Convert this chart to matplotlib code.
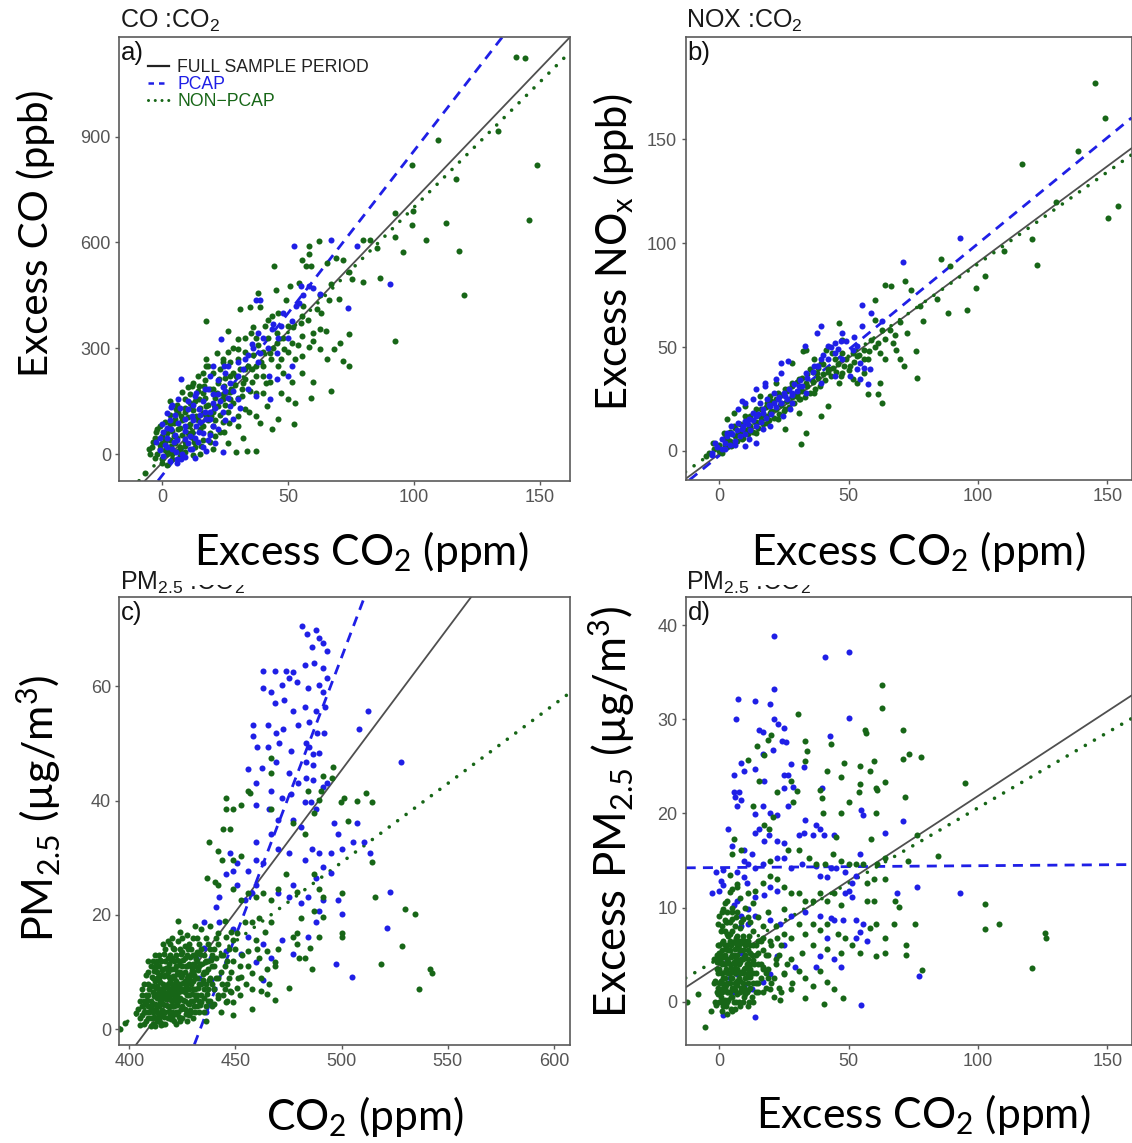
import numpy as np
import matplotlib
matplotlib.use("Agg")
import matplotlib.pyplot as plt
from matplotlib.lines import Line2D
from matplotlib.patches import Rectangle

# ---------------------------------------------------------------- data
# a) excess CO vs excess CO2  (x: ppm, y: ppb)
co_pcap = [(52.1,589),(67,608),(77.5,589),(90.3,483),(73.6,415),(62.7,455),(58.4,476),(54.9,476),
           (54.3,429),(51.4,377),(47.1,363),(43.6,353),(45.7,287),(38.6,438),(37.2,438),(37.9,344),
           (38.6,287),(42.2,221),(45.7,212),(50,221),(51.4,250),(35.8,311),(33,269),(30.1,221),
           (25.9,250),(23.1,325),(24.5,250),(20.2,250),(18.8,221),(17.1,184),(13.2,174),(7.5,212),
           (6.1,156),(3.3,132),(11.7,108),(17.4,99),(24.2,118),(26.9,137),(29.9,156),(14.6,61),
           (8.9,42),(4.7,33),(1.8,19),(7.5,-14),(17.4,9),(11.7,14),(24.2,5),(-2.4,33),(0.4,61),
           (6.1,89),(10.3,127),(14.6,127),(20.2,146),(3.3,70),(8.9,80),(13.2,80),(5.4,5),(0.4,-5),
           (20.2,80),(34,184),(42.8,156),(37.2,165),(2,45),(5,55),(9,65),(12,95),(15,110),(19,120),
           (22,170),(27,200),(16,150),(10,30),(-1,10),(3,-20),(6,-25),(13,-10),(18,40),(21,30),
           (28,100),(31,130),(25,180),
           (1,25),(2,75),(3,95),(4,15),(5,110),(6,40),(7,130),(8,0),(9,100),(10,150),(11,50),
           (12,140),(13,165),(14,35),(15,90),(16,60),(17,120),(18,185),(19,100),(20,170),(21,130),
           (22,210),(23,150),(24,190),(25,230),(26,160),(28,180),(30,260),(32,240),(34,280),
           (36,300),(38,260),(40,330),(42,300),(44,370),(46,330),(48,400),(50,330),(53,420),
           (56,450),(60,470),(-1,45),(0,85),(2,115),(4,140),(6,-15),(9,-8),(11,15),(13,45),
           (16,20),(19,55),(22,70),(25,95)]
co_nonpcap = [(140.5,1126),(144,1123),(148.6,818),(145.5,664),(133.4,917),(119.7,450),(117.9,575),
              (116.8,780),(112.6,655),(109.4,891),(104.7,608),(99,818),(99.4,688),(99,650),(95.7,573),
              (92.4,320),(92.4,683),(92.4,614),(86.4,500),(85.4,584),(82.5,608),(79.7,488),(75.4,495),
              (79.7,608),(74,339),(74,250),(71.9,264),(70.5,316),(67,179),(74,515),(71.9,551),
              (69,556),(65.5,542),(62.4,603),(58.4,589),(58.4,566),(59.1,533),(55.6,551),(67,481),
              (66.3,438),(62.8,452),(61.3,410),(62.8,353),(60,344),(55.6,391),(54.9,372),(55.6,335),
              (58.4,302),(55.6,278),(59.1,160),(52.1,85),(52.8,146),(51.4,203),(47.8,231),(47.1,269),
              (51.4,316),(50,363),(44.3,533),(45,466),(37.9,457),(38.6,416),(35,416),(37.2,330),
              (30.8,410),(25.9,349),(17.4,377),(37.2,9),(33.7,9),(29.4,5),(42.9,287),(45.7,316),
              (40,250),(35.8,203),(40,174),(32.7,240),(29.9,297),(24.2,269),(26.9,221),(32.7,127),
              (37.2,108),(41.5,137),(46,99),(20.2,184),(17.4,250),(14.6,193),(11.7,137),(24.2,156),
              (29.9,80),(22.9,61),(17.4,108),(-5.2,14),(-3.8,33),(-2.4,61),(-1,80),(1.1,42),(3.3,24),
              (4.7,52),(6.1,70),(7.5,108),(8.9,118),(10.3,80),(11.7,61),(13.2,108),(14.6,156),
              (16,174),(16.7,193),(17.4,137),(19.5,108),(21.7,174),(22.4,212),(24.5,193),(26.9,156),
              (27.3,184),(29.4,221),(31.6,184),(33,212),(35.8,240),(37.2,250),(40,221),(42.9,203),
              (47.1,174),(50,156),(-1,14),(1.8,70),(4.7,89),(6.1,118),(8.9,156),(11,146),(3.3,5),
              (6.1,9),(8.9,24),(12.4,33),(15.3,24),(18.8,33),(20.9,52),(24.5,61),(26.6,89),(30.1,108),
              (34.4,118),(38.6,89),(43.6,70),(5.4,127),(11.7,193),(17.4,269),(21.7,287),(29.9,325),
              (35.2,344),(40.9,363),(43.6,391),(49.2,438),(50.6,476),(54.2,485),(57,533),(45.7,344),
              (48.5,297),(52.8,269),(55.6,231),(60,203),(62.8,297),(65.5,269),(68.3,297),(37.2,174),
              (31.6,165),(20.2,80),(16,80),(-7,-55),(2,0),(0,30),(7,20),
              (-4,20),(-3,45),(-2,0),(-1,25),(0,50),(0,-15),(1,10),(1,35),(2,60),(2,20),(3,85),(3,40),
              (4,0),(4,65),(5,100),(5,30),(6,45),(6,140),(7,75),(7,10),(8,95),(8,55),(9,130),(9,35),
              (10,105),(10,60),(11,170),(11,85),(12,125),(12,45),(13,150),(13,20),(14,95),(14,180),
              (15,70),(15,130),(16,115),(16,40),(17,160),(17,210),(18,95),(18,140),(19,185),(19,60),
              (20,120),(20,230),(21,160),(21,95),(22,200),(22,135),(23,110),(23,240),(24,170),
              (24,90),(25,215),(25,140),(26,120),(27,260),(27,175),(28,145),(28,230),(29,195),
              (30,270),(30,160),(31,240),(32,200),(33,290),(34,250),(35,180),(36,280),(37,220),
              (38,310),(39,260),(40,290),(41,200),(42,330),(43,270),(44,300),(46,250),(48,330),
              (50,290),(52,360),(54,310),(56,420),(58,380),(60,320),(63,400),(65,350),(70,440),
              (46,400),(42,380),(36,360),(33,330),(28,300),(26,290),(24,260),(18,250),(14,220),
              (10,190),(6,120),(3,110),(1,90),(-2,70),(-5,0),(-3,-10),(0,-25),(2,-30),(4,-15),(7,-5),
              (9,5),(12,-2),(15,0),(20,15),(26,30),(32,45),(3,150),(8,175),(12,200),(16,230)]

# b) excess NOx vs excess CO2  (x: ppm, y: ppb)
nox_pcap = [(93.1,102.4),(70.9,91.1),(55.2,70),(58.7,66.4),(62.8,62.4),(39.2,60),(37.8,56.8),
            (33,50.4),(26.7,43.2),(23.9,42.4),(21.8,34.4),(17.7,31.2),(12.8,24.8),(10,23.2),(7.2,20),
            (4.4,12),(3.1,8.8),(1,5.6),(-1.8,4),(8.6,10.4),(11.4,15.2),(14.2,16.8),(17,18.4),
            (19.7,21.6),(22.5,24.8),(25.3,26.4),(28.1,28),(30.9,31.2),(33.6,37.6),(36.4,40.8),
            (39.2,44),(42,44),(44.8,47.2),(47.5,44),(51.7,48.8),(53.1,50.4),(54.5,42.4),(55.9,40),
            (53.1,39.2),(50.3,36),(54.5,34.4),(58.2,39.2),(57.6,32),(47.5,56.8),(46.9,52.8),
            (44.8,52),(42,50.4),(37.8,40.8),(21.1,28),(18.4,24.8),(15.6,23.2),(12.8,18.4),(10,14.4),
            (7.2,13.6),(4.4,8.8),(11.4,5.6),(10,2.4),(14.2,4),(17,10.4),(19.7,12),(24.6,16.8),
            (27.3,20),(28.1,23.2),(33.6,28),(39.2,32.8),(44.8,36),(8.6,24),(14.2,29.6),(17.7,32.8),
            (23.9,37.6),(-3,-1),(2,1),(6,3),
            (-3,-2),(-1,2),(1,1),(2,4),(3,7),(4,3),(5,8),(6,5),(7,10),(8,7),(9,12),(10,8),(11,13),
            (12,10),(13,15),(14,12),(15,18),(16,14),(17,20),(18,16),(19,22),(20,18),(21,23),(22,21),
            (23,26),(24,23),(25,28),(26,25),(27,30),(28,27),(29,32),(30,29),(31,34),(32,31),(34,35),
            (36,38),(38,41),(40,46),(43,50),(46,49),(49,53),(52,55),(55,60)]
nox_nonpcap = [(145.3,177.2),(149,160.4),(138.6,144.1),(116.8,138.1),(153.9,117.7),(150.4,112),
               (121,102),(122.6,89.6),(102.5,84),(99,78.4),(95.9,67.7),(88.5,66.4),(85.5,92.4),
               (89.2,88.8),(78.8,62.4),(77.4,69.6),(76,48),(76.4,35.2),(72.6,56.8),(71.2,40.8),
               (69.8,44),(74,77.6),(71.9,81.6),(64.2,80),(66.3,79.2),(60,72.8),(60,63.2),(62.8,58.4),
               (67,52),(68.4,48.8),(64.2,44),(62.2,32.8),(61.5,27.2),(57.3,27.2),(62.8,23.2),
               (55.9,37.6),(53.1,32.8),(46.2,61.6),(47.5,53.6),(41.3,48.8),(36.4,44),(32.3,48),
               (30.9,24.8),(42,21.6),(39.2,16.8),(33.6,8.8),(31.6,3.5),(25.3,10.4),(22.5,15.2),
               (19.7,26.4),(28.1,32.8),(25.3,29.6),(47.5,37.6),(50.3,40.8),(53.1,45.6),(55.9,48.8),
               (58.7,53.6),(61.4,52),(44.8,44),(42,39.2),(37.8,37.6),(33.6,32.8),(29.5,26.4),
               (23.9,23.2),(19.7,18.4),(15.6,16.8),(11.4,12),(7.2,8.8),(3.1,5.6),(-1.1,1.6),
               (-5.3,-2.4),(-2.5,4),(1.7,8.8),(5.8,12),(10,16.8),(14.2,20),(18.4,23.2),(22.5,28),
               (26.7,29.6),(30.9,34.4),(35.2,39.2),(39.2,42.4),(43.5,47.2),(47.5,47.2),(51.7,47.2),
               (4.4,2.4),(8.6,5.6),(14.2,8.8),(18.4,13.6),(10,21.6),(3.1,15.2),(5.8,18.4),(15.6,26.4),
               (21.8,32.8),(33.6,48.8),(28.1,42.4),(25.3,20),(36.4,28),(30.9,18.4),(46.2,32.8),
               (51.7,34.4),(57.3,44),(130,120),(110,96),(84,73),
               (-4,-1),(-2,1),(0,0),(0,3),(1,-1),(2,3),(2,6),(3,2),(4,5),(4,9),(5,3),(6,7),(6,11),
               (7,5),(8,9),(8,13),(9,6),(10,10),(10,14),(11,8),(12,12),(12,17),(13,9),(14,14),(14,18),
               (15,11),(16,15),(16,20),(17,13),(18,17),(18,21),(19,15),(20,19),(20,24),(21,16),
               (22,20),(22,25),(23,18),(24,22),(24,27),(25,19),(26,24),(26,29),(27,21),(28,26),
               (28,31),(29,23),(30,27),(30,33),(31,25),(32,29),(32,35),(33,26),(34,31),(34,37),
               (35,28),(36,33),(36,38),(37,30),(38,35),(38,40),(39,31),(40,37),(40,42),(41,34),
               (42,38),(43,36),(44,40),(45,38),(46,42),(47,36),(48,41),(49,44),(50,39),(52,43),
               (54,46),(56,44),(58,48),(60,50),(62,47),(64,54),(66,58),(68,56),(70,62)]

# c) PM2.5 vs CO2  (x: ppm, y: ug/m3)
pm_pcap = [(481.1,70.5),(483.9,69.1),(487.8,69.9),(489.5,68.5),(491.3,67.5),(486,66.9),(493,66.2),
           (463.1,62.7),(468.4,62.7),(474,62.7),(477.2,62.4),(482.5,63.7),(486.9,64),(491.3,63.2),
           (493,61.4),(463.1,59.6),(466.6,58.9),(471.9,60.2),(475.4,61.5),(479,60.8),(484.3,59.6),
           (489.5,60.2),(491.3,58.9),(468.4,57),(472.8,57.6),(477.2,55.7),(482.5,56.4),(487.8,55.7),
           (492.2,56.4),(458.3,53.2),(465.4,53.2),(468.9,51.9),(472.5,52.5),(479.5,53.2),(484.8,53.8),
           (488.4,51.9),(491.9,51.9),(458.3,51.3),(460,49.4),(465.4,49.4),(470.7,50),(476,48.7),
           (483.1,50),(484.8,49.4),(486.6,48.1),(489.2,48.4),(483.1,46.8),(486.6,46.2),(462.6,45.7),
           (468.9,46.8),(475,44.9),(479.5,43),(483.1,43.9),(486.6,43.6),(456,45.5),(459.6,43),
           (466.6,41.7),(471.9,40.4),(476.3,41.1),(482.5,39.8),(485.5,39.8),(491.3,42.4),(493,43),
           (459.6,39.2),(465.7,38.5),(470.1,36.6),(477.2,36.6),(480.7,35.4),(487.8,38.5),(466.6,34.1),
           (459.6,32.8),(470.1,31.5),(475.4,30.9),(482.5,29.6),(486,31.5),(489.5,30.9),(494.8,30.9),
           (500,31.5),(494.8,27.4),(447.2,30.9),(450.8,29),(449,27.7),(445.5,27.1),(459.6,29.6),
           (463.1,29),(456,27.7),(505.3,32.8),(510.6,32.8),(507.1,36),(512.4,55.7),(508,52.5),
           (527.9,46.7),(513.3,30.9),(498.3,34.1),(496.5,36),(491.3,28.3),(477.2,25.2),(480.7,22),
           (484.3,23.2),(487.8,26.4),(491.3,22.6),(498.3,22.6),(500,20.1),(489.5,20.7),(475.4,23.2),
           (470.1,23.9),(459.6,25.2),(457.8,23.9),(454.3,22.6),(450.8,25.2),(442.4,23.2),
           (440.6,21.3),(435.3,18.8),(442.4,18.8),(449,17.5),(456,16.2),(463.1,15),(466.6,12.4),
           (463.1,8.6),(459.6,11.8),(452.5,13.1),(445.5,13.7),(438.4,12.4),(435,14.3),(431.4,12.4),
           (438.4,8.6),(522.6,24),(521.2,17.8),(497.4,11.5),(504.9,9.1),(471.9,15.6),(477.2,13.1),
           (484.3,16.2),(487.8,18.8),(436,3),(440,7),(433,9)]
pm_nonpcap = [(395.6,0),(398.2,1.1),(403.2,2.9),(536.2,7),(541.5,10.5),(542.5,9.8),(534.4,20.1),
              (530,21),(528.3,14.6),(518.6,11.5),(515.9,23.2),(514.2,29.3),(514.2,39.8),(511.5,41.4),
              (507.1,39.9),(500.9,40.4),(499.6,39.7),(503.2,36.4),(495.3,43.9),(495.7,45.9),
              (491.3,44.3),(490.1,41.7),(484.3,41.7),(489.5,40.1),(486.9,37.9),(482.5,34.1),
              (477.2,36),(486.9,27.1),(489.5,24.5),(491.3,23.2),(486.9,20.7),(491.3,19.7),(500,23.9),
              (500,16.2),(500,16.9),(489.5,16.2),(486,10.5),(485.2,14.3),(482.5,12.4),(479.8,12.4),
              (477.2,16.2),(479,16.9),(479,15),(475.4,7.3),(468.4,5.1),(465,6.1),(461.9,6.7),
              (468.4,11.8),(468.4,11.1),(465,10.5),(465,13.7),(466.6,44.9),(466.6,47.5),(466.6,38.5),
              (456,41.7),(456.9,41.4),(445.5,40.4),(449,38.5),(452.5,39.2),(445.5,38.5),(444,35),
              (447.2,35),(437.5,32.8),(442,31.2),(443.8,29.6),(449,29.6),(452.5,30.3),(436.6,26.4),
              (440.2,25.8),(442,25.2),(449,24.5),(452.5,22.6),(456,23.9),(459.6,23.2),(463.1,23.9),
              (466.6,22.6),(470.1,24.5),(473.6,27.1),(479,24),(480.7,19.4),(466.6,18.8),(461.3,19.4),
              (457.8,18.8),(454.3,18.8),(450.8,16.9),(449,15.6),(445.5,16.2),(442,16.9),(456,13.7),
              (459.6,15.6),(461.3,12.4),(457.8,9.9),(452.5,9.2),(450.8,7.3),(447.2,6.7),(443.8,8),
              (442,5.4),(445.5,4.8),(449,4.8),(434.9,8.6),(434,4.8),(457.8,3.5),
              (405,2),(406,4),(407,1),(408,6),(408,3),(409,8),(410,2),(410,5),(411,9),(411,3),(412,6),
              (412,0.5),(413,4),(413,10),(414,7),(414,2),(415,5),(415,12),(416,3),(416,8),(417,6),
              (417,1),(418,10),(418,4),(419,7),(419,13),(420,5),(420,2),(421,9),(421,6),(422,3),
              (422,11),(423,8),(423,5),(424,14),(424,1.5),(425,7),(425,4),(426,10),(426,12.5),(427,6),
              (427,3),(428,9),(428,15),(429,5),(429,11),(430,7),(430,2),(431,13),(431,9),(432,4),
              (432,16),(433,8),(433,11),(434,6),(434,14),(435,3),(435,10),(436,12),(436,8),(437,5),
              (437,15),(438,9),(439,13),(440,7),(440,11),(441,16),(442,9),(443,13),(444,6),(445,11),
              (446,8),(447,14),(448,10),(412,13),(416,15),(420,16),(423,19),(410,11),(406,7),(409,12),
              (413,7.5),(417,9.5),(419,2.5),(421,4),(423,6.5),(426,8.5),(428,2.5),(430,13),(415,0.8),
              (411,1),(418,15.5),(424,17),(427,16.5),(431,18),(434,17.5),(438,18),(436,1.5),(439,4),
              (443,3),(446,5),(449,2.5),(452,6),(455,8),(452,11),(450,14),(448,17),(445,19),
              (414,9),(418,6.5),(420,8),(422,7),(416,5.5),(419,10.5),(421,12),(424,10),(426,5),
              (428,7),(430,10),(432,12),(412,4.5),(414,11),(417,12),(425,13.5),(427,11),(429,8),
              (431,6),(433,3),(435,7),(437,10.5),(407,5),(409,4),(411,6.5),(413,1.5),
              (404,3.5),(405,5),(405,0.8),(406,2.5),(406,6),(407,3),(407,8),(408,1.5),(408,4.5),
              (408,9.5),(409,2),(409,6),(409,10),(410,3.5),(410,7.5),(410,0.5),(411,4.5),(411,7.5),
              (411,12),(412,2),(412,8.5),(412,10.5),(413,3),(413,5.5),(413,12),(414,4),(414,5.5),
              (414,13),(415,2.5),(415,7),(415,9.5),(416,1),(416,4.5),(416,6.5),(416,10.5),(417,3),
              (417,7.5),(417,14),(418,2),(418,5.5),(418,8),(418,12.5),(419,4),(419,6),(419,8.5),
              (419,15),(420,3),(420,6.5),(420,10.5),(420,12.5),(421,1.5),(421,7.5),(421,14),(422,5),
              (422,8.5),(422,13),(422,1),(423,3),(423,10),(423,15.5),(424,5.5),(424,8),(424,12),
              (425,2),(425,9.5),(425,11),(425,16),(426,3.5),(426,6.5),(426,14.5),(427,8),(427,13),
              (427,1.5),(428,4.5),(428,11.5),(428,6),(429,3),(429,9.5),(429,14),(430,5),(430,8.5),
              (430,11.5),(430,16),(431,3),(431,7),(431,11),(432,6),(432,9),(432,13.5),(433,5),
              (433,15),(434,8),(434,11.5),(435,5.5),(435,13),(436,4),(436,10),(436,16),(437,7),
              (437,12),(438,5),(438,14),(439,8),(439,11),(440,4.5),(440,14),(441,9),(441,12.5),
              (442,6),(442,15),(443,10),(444,13),(445,7),(446,12),(447,9),(448,6.5),(449,12),(451,9),
              (453,13),(456,11),(458,7),(460,14),(462,9),(464,17),(466,8),(470,14),
              (408.5,5.2),(409.5,3.1),(409.5,7.1),(410.5,4.3),(410.5,9.2),(411.5,2.2),(411.5,5.8),
              (411.5,10.2),(412.5,3.6),(412.5,7.2),(412.5,11.3),(413.5,2.8),(413.5,6.3),(413.5,9.1),
              (414.5,1.2),(414.5,4.8),(414.5,8.2),(414.5,12.1),(415.5,3.3),(415.5,6.1),(415.5,10.4),
              (416.5,2.1),(416.5,7.3),(416.5,9.3),(416.5,13.2),(417.5,4.2),(417.5,5.3),(417.5,10.8),
              (418.5,3.2),(418.5,7.1),(418.5,9.2),(418.5,11.4),(419.5,1.8),(419.5,5.1),(419.5,12.1),
              (420.5,4.1),(420.5,7.3),(420.5,9.4),(420.5,14.2),(421.5,2.6),(421.5,5.6),(421.5,10.6),
              (422.5,4.2),(422.5,6.2),(422.5,9.6),(422.5,12.2),(423.5,2.1),(423.5,7.3),(423.5,11.3),
              (424.5,3.6),(424.5,6.7),(424.5,9.1),(424.5,13.1),(425.5,5.2),(425.5,8.1),(425.5,12.2),
              (426.5,2.6),(426.5,7.4),(426.5,11.1),(427.5,4.6),(427.5,9.3),(427.5,14.1),(428.5,3.4),
              (428.5,8.2),(428.5,12.6),(429.5,6.2),(429.5,10.4),(430.5,4.1),(430.5,9.5),(431.5,5.3),
              (431.5,12.3),(432.5,7.2),(432.5,10.3),(433.5,4.2),(433.5,13.1),(434.5,9.6),
              (435.5,11.8),(436.5,6.2),(437.5,8.6),(438.5,12.2)]

# d) excess PM2.5 vs excess CO2  (x: ppm, y: ug/m3)
epm_pcap = [(21.3,38.9),(50,37.2),(41,36.6),(7.4,32.2),(13.9,32),(21.3,33.2),(50,30.1),(6.5,30),
            (19.4,31.6),(21.1,30),(22.5,29.5),(25,29.1),(15.3,28.9),(16.7,28.7),(42.8,28.2),
            (24.2,27.7),(25.6,27.6),(20.8,26.7),(16.7,26.3),(27.8,25.3),(32.6,24.9),(25,24.1),
            (26.4,24.1),(8.3,25.4),(5.6,24.1),(9.7,24.5),(13.9,24.7),(17.4,23.5),(28.5,22.8),
            (25,22.7),(39.6,22.7),(5.6,22.3),(7.6,22.3),(6.2,21.7),(8.3,21.4),(6.9,20.8),(3.5,18.3),
            (13.9,19.9),(16.7,20.8),(19.4,20),(22.2,19.8),(26.4,20.8),(33.3,19.3),(37.5,18.8),
            (54.9,20.4),(55.6,19.8),(70.8,19.2),(63.9,17.9),(38.9,18.3),(40.3,17.7),(44.4,17.7),
            (13.9,17.9),(15.3,18.4),(17.4,17.1),(19.2,17.7),(22.2,17.1),(25,16.9),(30.6,17.7),
            (32.6,17.9),(36.1,17.7),(4.9,16.5),(9.7,16.1),(12.5,15.7),(9.7,15),(11.1,14.6),
            (6.9,13.8),(1.4,14),(-1.4,13.8),(0.7,12.8),(1.4,12.4),(-2.8,11.5),(0,11.8),(9.7,13.2),
            (10.8,12.6),(13.9,14.2),(16.7,14.6),(22.2,15.3),(25,15.3),(27.8,14.2),(31.9,14.6),
            (37.5,14.4),(38.9,13.4),(43,14.2),(45.1,14.2),(41.7,13.2),(48.6,13.8),(54.2,15.7),
            (52.8,13.4),(51.4,12.6),(50,11.8),(51.4,11.1),(48.6,11.5),(68.8,11.5),(76.4,12.2),
            (93.1,11.5),(17.4,11.3),(13.9,11.1),(19.4,12.2),(22.2,11.8),(6.9,10.7),(5.6,10.3),
            (11.1,9.9),(8.3,9.1),(8.3,8),(11.1,8.3),(13.9,9.1),(19.4,8.7),(23.6,8.3),(27.8,9.1),
            (33.3,9.5),(38.9,9.1),(43,8.9),(44.4,8.7),(47.9,8.7),(52.8,8.7),(55.6,8.3),(54.2,7.4),
            (52.8,6.8),(56.9,6.4),(41.7,6.8),(38.9,4.9),(44.4,4.5),(47.2,3.7),(37.5,3.7),(29.2,3.7),
            (25,6),(22.2,4.9),(19.4,2.9),(16.7,2.1),(12.5,1.4),(9.7,1.7),(6.9,2.9),(5.6,1),
            (1.4,-1.4),(13.9,-1.6),(54.9,-0.4),(77.1,2.7),(2.8,4.5),(4.2,2.5),(8.3,5.2)]
epm_nonpcap = [(62.8,33.7),(62.8,31.2),(30.3,30.6),(33.3,27.7),(56.3,28.9),(56.5,28.5),(71.1,28.9),
               (73.3,26.3),(70.8,25.8),(78.1,26),(95.1,23.2),(71.9,21.7),(76.4,17.7),(84.7,15.5),
               (72.9,15),(102.5,10.4),(102.5,7.7),(107.9,8.3),(125.7,7.3),(126.4,6.8),(120.8,3.6),
               (75.7,8.3),(78.5,3.4),(72.2,6),(72.2,5),(68,10.7),(69.4,10.1),(67.4,8.3),(63.9,6.8),
               (63.9,5.2),(60.4,4.9),(60.4,8.3),(58.3,7.8),(63.9,13),(63.9,15.3),(61.1,14.6),
               (60.4,20),(58.8,17.3),(61.1,22.5),(60.4,22.7),(63.9,23.3),(58.3,24.5),(59.7,25.6),
               (54.2,25),(53.9,22.3),(50,21.2),(48.3,25.4),(54.4,23.1),(47.2,23.9),(41.7,24.5),
               (43,27.4),(47.2,20),(39.6,21.6),(40,20),(38.9,22.5),(34,26.6),(33.3,25.6),(29.9,22.4),
               (27.8,23.5),(28.5,21.2),(22.2,22.3),(20.1,28.3),(18.8,27.8),(17.4,26.2),(14.6,27.2),
               (11.1,25.7),(15.3,23.5),(13.2,20.8),(20.8,19.6),(17.4,18.8),(19.2,18.4),(5.6,17.3),
               (8.3,16.1),(4.9,15.7),(19.4,15),(26.4,16.1),(30.6,16.1),(34.7,15.3),(37.5,14.6),
               (41,14.6),(43.8,15.7),(45.1,17.5),(47.2,15),(50,14.6),(52.8,14.6),(55.6,14.6),
               (56.9,12.6),(59.7,13),(56.9,10.7),(59.7,10.7),(47.2,10.3),(44.4,11.5),(41.7,10.7),
               (38.9,11.5),(36.1,10.7),(33.3,10.7),(30.6,11.5),(27.8,11.5),(25,12.2),(22.2,13),
               (19.4,13.4),(16.7,12.6),(13.9,11.8),(11.1,11.5),(6.9,12.2),(4.2,11.7),(2.8,10.7),
               (1.4,9.9),(0,9.1),(-0.7,8.3),(2.1,8.7),(4.9,9.5),(25,9.9),(30.6,8.3),(33.3,7.2),
               (36.1,8.3),(38.9,7.6),(41.7,8.3),(45.8,7.2),(48.6,6.8),(51.4,6),(54.2,5.2),(47.2,5.2),
               (41.7,5.6),(36.1,6),(31.9,5.2),(27.8,6.8),(25,7.2),(22.2,6.8),(19.4,6.4),(16.7,6.8),
               (27.8,4.5),(30.6,3.3),(33.3,2.5),(36.1,1.7),(41.7,2.1),(44.4,1.4),(47.9,0.4),
               (40.3,-0.2),(33.3,0.4),(27.8,1.4),(23.6,0.2),(19.4,1.4),(16.7,3.7),(38.9,3.3),(25,2.9),
               (-12.5,0),(-8.3,0.8),(-5.6,-2.7),(-3.1,-1),(-1.4,-0.4),
               (0,0),(1,2),(2,4),(3,1),(4,3),(5,5),(6,2),(7,6),(8,1),(9,3),(10,5),(11,2),(12,4),(13,6),
               (14,1),(0.5,5),(1.5,6.5),(2.5,-0.5),(3.5,5.5),(4.5,0.5),(5.5,3.5),(6.5,4.5),(7.5,0),
               (8.5,4.5),(9.5,1.5),(10.5,6.5),(11.5,3.5),(12.5,0.5),(-1,1),(-0.5,3),(0,6),(1,-1),
               (2,2.5),(3,4.5),(4,6.5),(5,1.5),(6,-0.8),(7,3.5),(8,5.5),(9,7),(10,0.8),(11,4.5),(12,6),
               (13,3),(14,5),(15,2),(16,4),(17,1),(18,3),(19,5),(2,7.5),(4,8.5),(6,8),(8,7.8),(3,9.5),
               (5,10),(1,8),(0,3.5),(-1,5),(1,0),(3,-1.3),(5,-1),(7,1.8),(9,0),(11,-0.5),(13,0),(20,2),
               (22,4),(24,1),(15,6.5),(17,5.5),(19,2.5),(21,0.5),(23,5),(25,3),
               (-2,2),(-2,4.5),(-1.5,0),(-1,3.5),(-0.5,1.5),(-0.5,6),(0,2),(0,4.5),(0.5,0.5),(0.5,3),
               (0.5,7.5),(1,1),(1,4),(1,5.5),(1.5,2.5),(1.5,-0.5),(2,1.5),(2,5),(2,6),(2.5,3.5),
               (2.5,8.5),(3,0),(3,2),(3,6),(3.5,1),(3.5,3),(3.5,7),(4,2),(4,4),(4,5.5),(4.5,-0.8),
               (4.5,2.5),(4.5,6),(5,0.5),(5,3.5),(5,7.5),(5.5,1.5),(5.5,5),(6,3),(6,4),(6,6.5),(6.5,0),
               (6.5,2),(6.5,9),(7,0.8),(7,5),(7,7),(7.5,2.5),(7.5,4),(8,-0.5),(8,3),(8,6.5),(8.5,1.5),
               (8.5,8.5),(9,2),(9,4.5),(9,5.5),(9.5,0.5),(9.5,3.5),(10,2.5),(10,6),(10.5,1),(10.5,4),
               (11,3),(11,5.5),(11.5,0),(11.5,7),(12,1.5),(12,3.5),(12.5,5),(13,2),(13,7.5),(13.5,4),
               (14,3),(14,6),(15,1),(15,4),(16,2.5),(16,6.5),(17,3.5),(18,1.5),(18,5),(19,3.5),(20,6),
               (21,2.5),(22,4.5),(23,1.5),(24,6),(26,4),(28,2),(2,10.5),(5,12),(8,11),(11,9),
               (13,10.5),(15,9),(17,8),(19,9.5),(22,8),(4,13.5),(7,12.5),(10,10),
               (-1.5,2.2),(-1,4.2),(-0.5,0.8),(0,1.2),(0,5.2),(0.5,2.2),(0.5,4.2),(1,3),(1,6.2),
               (1.5,1.5),(1.5,4.8),(2,0.2),(2,3.2),(2.5,1.8),(2.5,5.6),(3,3.2),(3,7.2),(3.5,0.2),
               (3.5,4.2),(4,1),(4,7.2),(4.5,3.6),(4.5,4.8),(5,2.5),(5,6.2),(5.5,0),(5.5,4.2),(6,1.2),
               (6,5.6),(6.5,3.2),(6.5,6.8),(7,2.2),(7,4.2),(7.5,5.6),(8,2.2),(8,4.2),(8.5,3.2),
               (8.5,6.2),(9,1.2),(9,6.6),(9.5,4.8),(10,3.6),(10.5,2.6),(11,1.2),(11,6.4),(12,2.6),
               (12,5.2),(13,4.4),(14,2),(15,5.2),(3,8.5),(5,8.8),(7,9.5),(1,9.5),(9,8.8),(12,8.5)]

# regression lines: (intercept at x = 0, slope) for full period, PCAP and non-PCAP
fit_co = {"full": (-24.2, 7.45), "pcap": (-60.0, 9.2), "non": (-10.0, 7.1)}
fit_nox = {"full": (-1.4, 0.923), "pcap": (-2.2, 1.02), "non": (1.5, 0.885)}
fit_pm = {"full": (-202.8, 0.4963), "pcap": (-423.4, 0.977), "non": (-108.8, 0.276)}
fit_epm = {"full": (3.86, 0.180), "pcap": (14.25, 0.002), "non": (4.6, 0.160)}

# ---------------------------------------------------------------- styling
plt.rcParams["font.family"] = ["Liberation Sans", "DejaVu Sans"]
GREEN = "#176617"
BLUE = "#1f1fe6"
FULL = "#4f4f4f"
FRAME = "#5a5a5a"
TICKTXT = "#555555"
LABEL_FONT = ["Lato", "DejaVu Sans"]

W, H = 1132, 1143
fig = plt.figure(figsize=(W / 100, H / 100), dpi=100)


def rect(l, t, r, b):
    return [l / W, 1 - b / H, (r - l) / W, (b - t) / H]


def panel(pos, xlim, ylim, xticks, yticks, pcap, nonpcap, fit, letter, green_on_top):
    ax = fig.add_axes(rect(*pos))
    gx, gy = np.array(nonpcap).T
    bx, by = np.array(pcap).T
    gz, bz = (2.2, 2.1) if green_on_top else (2.1, 2.2)
    ax.scatter(gx, gy, s=19, color=GREEN, linewidths=0, zorder=gz)
    ax.scatter(bx, by, s=19, color=BLUE, linewidths=0, zorder=bz)
    # fitted lines sit underneath the points
    b0, m = fit["full"]
    ax.axline((0, b0), slope=m, color=FULL, lw=1.3, zorder=1.9)
    b0, m = fit["pcap"]
    ax.axline((0, b0), slope=m, color=BLUE, lw=2.0, linestyle=(0, (3.6, 2.6)), zorder=1.9)
    b0, m = fit["non"]
    ax.axline((0, b0), slope=m, color=GREEN, lw=2.6, linestyle=(0, (0.01, 2.9)),
              dash_capstyle="round", zorder=1.9)
    ax.set_xlim(*xlim)
    ax.set_ylim(*ylim)
    ax.set_xticks(xticks)
    ax.set_yticks(yticks)
    for s in ax.spines.values():
        s.set_color(FRAME)
        s.set_linewidth(1.2)
    ax.tick_params(direction="out", length=3, width=1.0, color=FRAME,
                   labelsize=13, labelcolor=TICKTXT, pad=3)
    ax.text(0.004, 0.992, letter, transform=ax.transAxes, ha="left", va="top",
            fontsize=18.5, color="#111111", zorder=5)
    return ax


ax_a = panel((119.3, 37, 570, 480.7), (-17.1, 161.9), (-75.7, 1182.3),
             [0, 50, 100, 150], [0, 300, 600, 900], co_pcap, co_nonpcap, fit_co, "a)", False)
ax_b = panel((685.5, 37, 1131.5, 480), (-13.1, 159.3), (-14.0, 199.2),
             [0, 50, 100, 150], [0, 50, 100, 150], nox_pcap, nox_nonpcap, fit_nox, "b)", False)
ax_c = panel((119.3, 597, 570, 1044.5), (395.3, 607.5), (-2.66, 75.6),
             [400, 450, 500, 550, 600], [0, 20, 40, 60], pm_pcap, pm_nonpcap, fit_pm, "c)", True)
ax_d = panel((685.7, 597, 1131.5, 1045), (-13.0, 159.3), (-4.6, 43.0),
             [0, 50, 100, 150], [0, 10, 20, 30, 40], epm_pcap, epm_nonpcap, fit_epm, "d)", True)

# legend in panel a
handles = [Line2D([], [], color="#222222", lw=1.6),
           Line2D([], [], color=BLUE, lw=1.8, linestyle=(0, (2.2, 2.0))),
           Line2D([], [], color=GREEN, lw=2.2, linestyle=(0, (0.01, 2.2)), dash_capstyle="round")]
labels = ["FULL SAMPLE PERIOD", "PCAP", "NON\u2212PCAP"]
ax_a.legend(handles, labels, loc="upper left",
            bbox_to_anchor=((148 - 119.3) / 450.7, (480.7 - 59) / 443.7),
            frameon=False, fontsize=12.7, handlelength=1.2, handletextpad=0.45,
            labelspacing=0.0, borderpad=0, borderaxespad=0,
            labelcolor=["#222222", BLUE, GREEN])

# panel titles
title_kw = dict(fontsize=18, ha="left", va="baseline", color="#1a1a1a", zorder=3)
fig.text(120 / W, 1 - 28 / H, r"CO :$\mathregular{CO_2}$", **title_kw)
fig.text(686 / W, 1 - 28 / H, r"NOX :$\mathregular{CO_2}$", **title_kw)
fig.text(120 / W, 1 - 590 / H, r"$\mathregular{PM_{2.5}}$ :$\mathregular{CO_2}$", **title_kw)
fig.text(686 / W, 1 - 590 / H, r"$\mathregular{PM_{2.5}}$ :$\mathregular{CO_2}$", **title_kw)

# white backing boxes of the upper x-axis titles
for l, r in [(192, 535), (752, 1092)]:
    fig.add_artist(Rectangle((l / W, 1 - 585 / H), (r - l) / W, (585 - 522) / H,
                             transform=fig.transFigure, facecolor="white",
                             edgecolor="none", zorder=4))

lab_kw = dict(family=LABEL_FONT, color="black", zorder=5)
fig.text(361.5 / W, 1 - 565 / H, r"Excess $\mathregular{CO_2}$ (ppm)", fontsize=30.7,
         ha="center", va="baseline", **lab_kw)
fig.text(918.5 / W, 1 - 565 / H, r"Excess $\mathregular{CO_2}$ (ppm)", fontsize=30.7,
         ha="center", va="baseline", **lab_kw)
fig.text(365 / W, 1 - 1130 / H, r"$\mathregular{CO_2}$ (ppm)", fontsize=30.7,
         ha="center", va="baseline", **lab_kw)
fig.text(923 / W, 1 - 1128 / H, r"Excess $\mathregular{CO_2}$ (ppm)", fontsize=30.7,
         ha="center", va="baseline", **lab_kw)

ylab_kw = dict(rotation=90, rotation_mode="anchor", ha="center", va="baseline", **lab_kw)
fig.text(48 / W, 1 - 233 / H, "Excess CO (ppb)", fontsize=29, **ylab_kw)
fig.text(627 / W, 1 - 252 / H, r"Excess $\mathregular{NO_x}$ (ppb)", fontsize=30, **ylab_kw)
fig.text(54 / W, 1 - 808 / H, r"$\mathregular{PM_{2.5}}$ (µg/m$\mathregular{^3}$)", fontsize=31,
         **ylab_kw)
fig.text(627 / W, 1 - 812 / H, r"Excess $\mathregular{PM_{2.5}}$ (µg/m$\mathregular{^3}$)",
         fontsize=31.5, **ylab_kw)

fig.savefig("out.png", dpi=100, facecolor="white")
